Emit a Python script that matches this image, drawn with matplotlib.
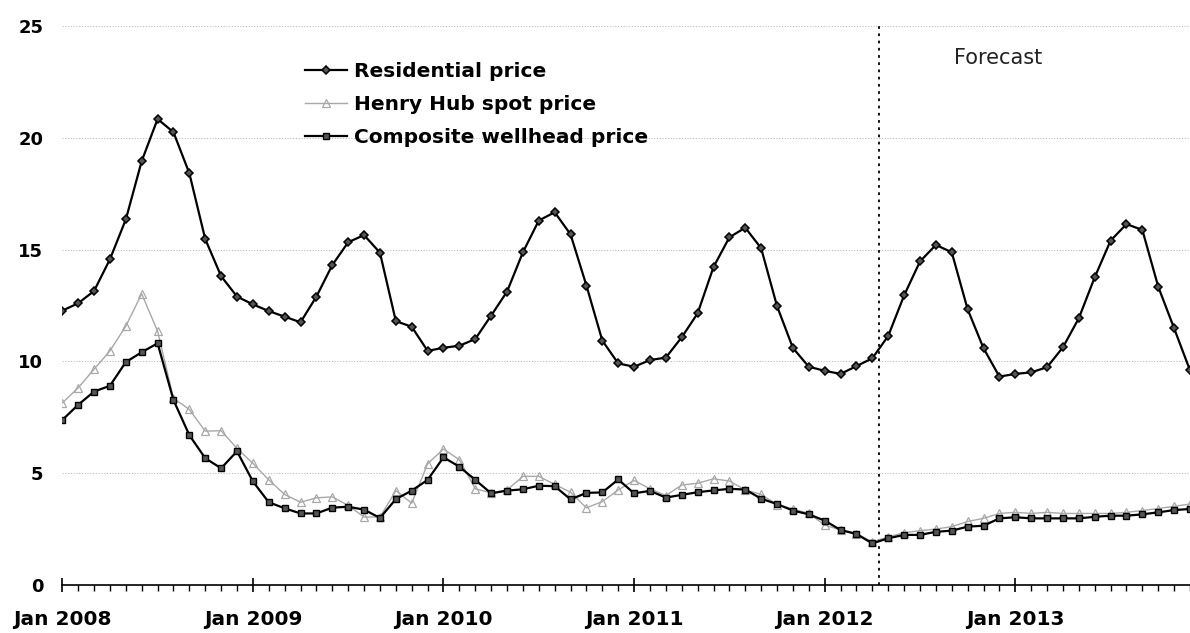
import matplotlib
matplotlib.use('Agg')
import matplotlib.pyplot as plt
import numpy as np

#-----DATA---------------------------------------------------------------------#
# Monthly prices, Jan 2008 .. Dec 2013 (dollars per thousand cubic feet)
residential = [12.27, 12.60, 13.15, 14.57, 16.35, 18.96, 20.84, 20.25, 18.41, 15.47, 13.81, 12.90,
               12.55, 12.25, 12.00, 11.75, 12.90, 14.31, 15.33, 15.65, 14.86, 11.80, 11.55, 10.47,
               10.61, 10.70, 11.00, 12.05, 13.12, 14.88, 16.30, 16.67, 15.68, 13.39, 10.93, 9.91,
               9.76, 10.06, 10.17, 11.08, 12.15, 14.22, 15.55, 15.98, 15.06, 12.47, 10.60, 9.76,
               9.58, 9.44, 9.79, 10.14, 11.14, 12.95, 14.47, 15.21, 14.88, 12.33, 10.59, 9.32,
               9.44, 9.51, 9.74, 10.63, 11.93, 13.76, 15.40, 16.14, 15.88, 13.34, 11.48, 9.60]

henry_hub = [8.14, 8.82, 9.65, 10.47, 11.58, 13.02, 11.35, 8.35, 7.85, 6.88, 6.90, 6.11,
             5.44, 4.70, 4.05, 3.70, 3.90, 3.94, 3.56, 3.04, 3.04, 4.22, 3.66, 5.42,
             6.08, 5.60, 4.30, 4.12, 4.25, 4.86, 4.86, 4.50, 4.15, 3.45, 3.73, 4.25,
             4.68, 4.30, 4.00, 4.47, 4.55, 4.75, 4.65, 4.25, 4.05, 3.60, 3.40, 3.20,
             2.68, 2.46, 2.30, 1.93, 2.15, 2.34, 2.43, 2.50, 2.61, 2.84, 2.98, 3.20,
             3.25, 3.20, 3.25, 3.20, 3.20, 3.20, 3.20, 3.25, 3.33, 3.42, 3.52, 3.62]

composite = [7.38, 8.06, 8.65, 8.91, 9.97, 10.41, 10.81, 8.27, 6.70, 5.67, 5.22, 5.98,
             4.63, 3.70, 3.43, 3.20, 3.20, 3.46, 3.50, 3.37, 3.00, 3.84, 4.22, 4.70,
             5.71, 5.29, 4.70, 4.10, 4.22, 4.28, 4.44, 4.42, 3.83, 4.12, 4.14, 4.72,
             4.10, 4.21, 3.91, 4.03, 4.15, 4.23, 4.30, 4.27, 3.86, 3.62, 3.33, 3.16,
             2.88, 2.46, 2.28, 1.86, 2.09, 2.24, 2.24, 2.38, 2.43, 2.61, 2.65, 2.98,
             3.03, 2.98, 2.98, 2.98, 2.98, 3.05, 3.10, 3.10, 3.16, 3.25, 3.35, 3.40]

year_labels = ['Jan 2008', 'Jan 2009', 'Jan 2010', 'Jan 2011', 'Jan 2012', 'Jan 2013']
forecast_start = 51.4      # between Apr and May 2012 (month index)

#-----PLOT---------------------------------------------------------------------#
months = np.arange(len(residential))

fig = plt.figure(figsize=(11.9, 6.33), dpi=100)
ax = fig.add_axes([62.3 / 1190, 1 - 585 / 633, 1 - 62.3 / 1190, (585 - 26) / 633])

ax.plot(months, residential, color='black', lw=1.6, marker='D', ms=4.2,
        mfc='#555555', mec='black', mew=1.1, label='Residential price', zorder=4)
ax.plot(months, henry_hub, color='#a8a8a8', lw=1.0, marker='^', ms=5.5,
        mfc='none', mec='#a8a8a8', mew=0.9, label='Henry Hub spot price', zorder=3)
ax.plot(months, composite, color='black', lw=1.6, marker='s', ms=4.8,
        mfc='#555555', mec='black', mew=1.0, label='Composite wellhead price', zorder=4)

# forecast divider
ax.axvline(forecast_start, color='black', lw=1.3, ls=(0, (1.5, 2.5)), zorder=2)
ax.text(58.9, 23.55, 'Forecast', ha='center', va='center', fontsize=15,
        family='DejaVu Sans', color='#222222')

# axes
ax.set_xlim(0, 70.6)
ax.set_ylim(0, 25)
ax.set_yticks(range(0, 26, 5))
ax.set_xticks(range(0, 72, 12))
ax.set_xticklabels(year_labels)
ax.set_xticks(months, minor=True)
ax.grid(axis='y', color='#bdbdbd', lw=0.8, ls=(0, (1, 1.5)))
ax.set_axisbelow(True)

for s in ['left', 'right', 'top']:
    ax.spines[s].set_visible(False)
ax.spines['bottom'].set_linewidth(1.2)
ax.spines['bottom'].set_zorder(5)

ax.tick_params(axis='x', which='major', direction='inout', length=9.4, width=1.2, pad=13.5,
               labelsize=14.5)
ax.tick_params(axis='x', which='minor', direction='out', length=4.3, width=1.0)
ax.tick_params(axis='y', length=0, pad=13.7, labelsize=13)
for lab in ax.get_xticklabels() + ax.get_yticklabels():
    lab.set_fontweight('bold')

leg = ax.legend(loc='upper left', bbox_to_anchor=(305 / 1190, 1 - 62 / 633),
                bbox_transform=fig.transFigure, frameon=False, handlelength=2.1,
                handletextpad=0.35, labelspacing=0.7, borderpad=0, borderaxespad=0,
                prop={'family': 'DejaVu Sans', 'weight': 'bold', 'size': 14.5})

plt.savefig('out.png', dpi=100)
